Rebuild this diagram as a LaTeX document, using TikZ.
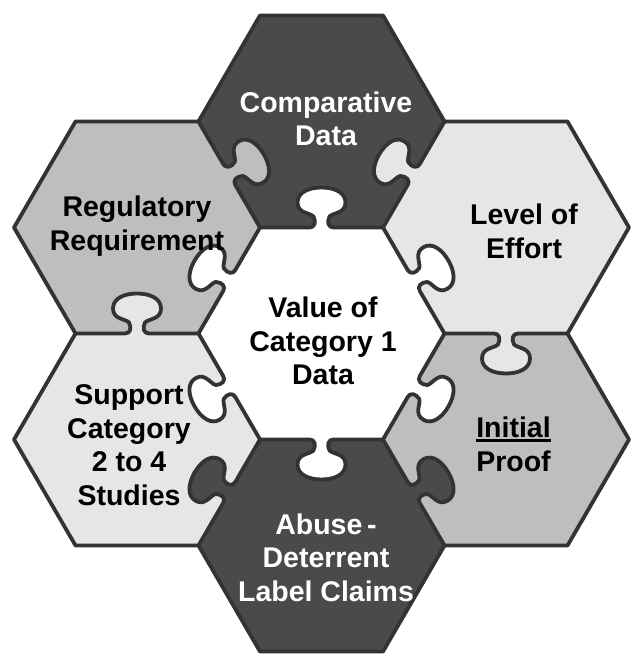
\documentclass[tikz,border=0pt]{standalone}
\usepackage{fontspec}
\setmainfont{Liberation Sans}
\usetikzlibrary{calc}
\definecolor{darkfill}{HTML}{4A4A4A}
\definecolor{midfill}{HTML}{BEBEBE}
\definecolor{lightfill}{HTML}{E6E6E6}
\definecolor{edgecol}{HTML}{333333}
\def\s{123}
\def\hh{106}
\newcommand\hexverts[3]{%
  \coordinate (#1) at (#2,#3);
  \coordinate (#1-0) at (#2+\s,#3);
  \coordinate (#1-1) at (#2+0.5*\s,#3+\hh);
  \coordinate (#1-2) at (#2-0.5*\s,#3+\hh);
  \coordinate (#1-3) at (#2-\s,#3);
  \coordinate (#1-4) at (#2-0.5*\s,#3-\hh);
  \coordinate (#1-5) at (#2+0.5*\s,#3-\hh);
}
\newcommand\hexfill[2]{\fill[#2] (#1-0) -- (#1-1) -- (#1-2) -- (#1-3) -- (#1-4) -- (#1-5) -- cycle;}
\newcommand\knobedge[4]{%
  \begin{scope}[shift={($(#1)!0.5!(#2)$)}, rotate=#3]
    \fill[#4] (-12,-1) -- (-12,0) .. controls (-7,0) and (-5,5) .. (-8,11)
      .. controls (-12,15) and (-24,14) .. (-24,25)
      .. controls (-24,35) and (-13,40) .. (0,40)
      .. controls (13,40) and (24,35) .. (24,25)
      .. controls (24,14) and (12,15) .. (8,11)
      .. controls (5,5) and (7,0) .. (12,0) -- (12,-1) -- cycle;
    \draw[edgeline] (#1) -- (-12,0) .. controls (-7,0) and (-5,5) .. (-8,11)
      .. controls (-12,15) and (-24,14) .. (-24,25)
      .. controls (-24,35) and (-13,40) .. (0,40)
      .. controls (13,40) and (24,35) .. (24,25)
      .. controls (24,14) and (12,15) .. (8,11)
      .. controls (5,5) and (7,0) .. (12,0) -- (#2);
  \end{scope}}
\newcommand\ulword[1]{\setbox0=\hbox{#1}\rlap{\rule[-4pt]{\wd0}{2.6pt}}\box0}
\tikzset{
  edgeline/.style={draw=edgecol, line width=3.8pt, line cap=round, line join=round},
  lbl/.style={align=center, font=\bfseries\fontsize{28.5}{33.5}\selectfont, inner sep=0pt},
  lbldark/.style={lbl, text=white},
}
\begin{document}
\begin{tikzpicture}[x=1pt,y=1pt]
\useasboundingbox (0,0) rectangle (630,655);
\fill[white] (0,0) rectangle (630,655);
\hexverts{C}{321.5}{321.5}
\hexverts{T}{321.5}{533.5}
\hexverts{B}{321.5}{109.5}
\hexverts{UL}{137}{427.5}
\hexverts{LL}{137}{215.5}
\hexverts{UR}{506}{427.5}
\hexverts{LR}{506}{215.5}
\hexfill{C}{white}
\hexfill{T}{darkfill}
\hexfill{B}{darkfill}
\hexfill{UL}{midfill}
\hexfill{LR}{midfill}
\hexfill{UR}{lightfill}
\hexfill{LL}{lightfill}
% central knobs
\knobedge{C-2}{C-1}{0}{white}
\knobedge{C-3}{C-2}{60}{white}
\knobedge{C-4}{C-3}{120}{white}
\knobedge{C-5}{C-4}{180}{white}
\knobedge{C-0}{C-5}{240}{white}
\knobedge{C-1}{C-0}{300}{white}
% outer knobs
\knobedge{T-3}{T-4}{300}{midfill}
\knobedge{T-5}{T-0}{60}{lightfill}
\knobedge{UL-4}{UL-5}{0}{lightfill}
\knobedge{UR-5}{UR-4}{180}{lightfill}
\knobedge{B-3}{B-2}{60}{darkfill}
\knobedge{B-1}{B-0}{300}{darkfill}
% outer boundary
\draw[edgeline] (T-1) -- (T-2) -- (T-3) -- (UL-2) -- (UL-3) -- (UL-4) -- (LL-3) -- (LL-4) -- (LL-5) -- (B-4) -- (B-5) -- (B-0) -- (LR-5) -- (LR-0) -- (LR-1) -- (UR-0) -- (UR-1) -- (UR-2) -- cycle;
% labels
\node[lbldark] (tComp) at (326,536) {Comparative\\Data};
\node[lbl] (tReg) at (137,429) {Regulatory\\Requirement};
\node[lbl] (tLev) at (524,423.5) {Level of\\Effort};
\node[lbl] (tVal) at (323,314) {Value of\\Category 1\\Data};
\node[lbl] (tSup) at (129,210) {Support\\Category\\2 to 4\\Studies};
\node[lbl] (tIni) at (513.5,210.5) {\ulword{Initial}\\Proof};
\node[lbldark] (tAbu) at (326,97.5) {Abuse\,-\\Deterrent\\Label Claims};
\end{tikzpicture}
\end{document}
